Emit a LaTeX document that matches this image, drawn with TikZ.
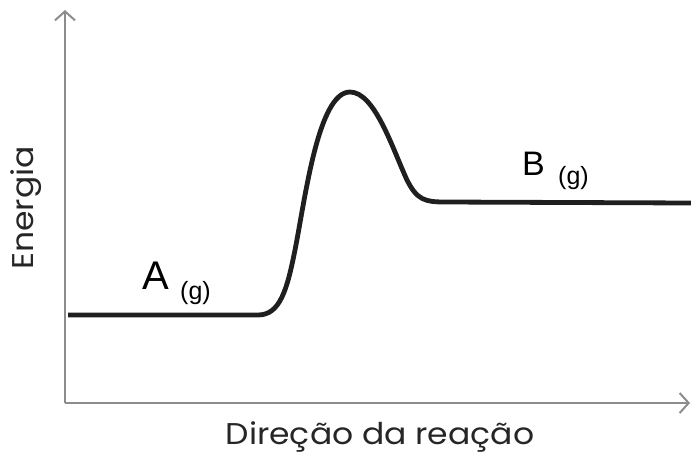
\documentclass[tikz,border=0pt]{standalone}
\usepackage{fontspec}
\setmainfont{Liberation Sans}
\newfontfamily\axisfont[FakeStretch=1.1]{Poppins}
\usetikzlibrary{arrows.meta}
\begin{document}
\begin{tikzpicture}[x=1pt,y=-1pt,
  axisline/.style={draw=black!45,line width=2.2pt,-{Straight Barb[length=9pt,width=20pt,line width=2pt]}},
  curveline/.style={draw=black!88,line width=4.8pt,line join=round},
  axislabel/.style={font=\axisfont\fontsize{30}{32}\selectfont,text=black!85,inner sep=0pt},
  species/.style={inner sep=0pt,anchor=base west,text=black}]
\useasboundingbox (0,0) rectangle (691,453);
\coordinate (O) at (65,403);
\coordinate (ytip) at (65,10);
\coordinate (xtip) at (690,403);
\draw[axisline] (O) -- (ytip);
\draw[axisline] (O) -- (xtip);
\coordinate (c0) at (68,315);
\coordinate (c1) at (258,315);
\coordinate (c2) at (295,250);
\coordinate (peak) at (350,92);
\coordinate (c3) at (407,180);
\coordinate (c4) at (445,202);
\coordinate (c5) at (691,203);
\draw[curveline] (c0) -- (c1) .. controls (280,315) and (287,290) .. (c2)
  .. controls (305,200) and (318,92) .. (peak)
  .. controls (375,92) and (393,150) .. (c3)
  .. controls (417,200) and (425,202) .. (c4) -- (c5);
\node[species,font=\fontsize{40}{42}\selectfont] (A) at (142,289) {A};
\node[species,font=\fontsize{25}{27}\selectfont] (Ag) at (180,299) {(g)};
\node[species,font=\fontsize{34}{36}\selectfont] (B) at (522,175) {B};
\node[species,font=\fontsize{25}{27}\selectfont] (Bg) at (558,184) {(g)};
\node[axislabel,rotate=90] (ylab) at (26,208) {Energia};
\node[axislabel,anchor=base] (xlab) at (380,444) {Direção da reação};
\end{tikzpicture}
\end{document}
